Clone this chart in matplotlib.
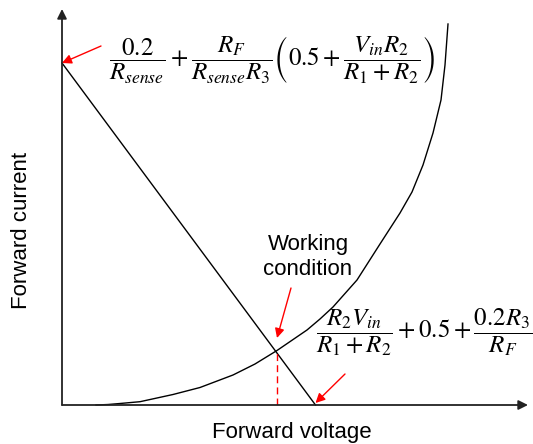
import matplotlib
matplotlib.use("Agg")
import matplotlib.pyplot as plt

plt.rcParams['font.family'] = ['Liberation Sans', 'DejaVu Sans']
plt.rcParams['mathtext.fontset'] = 'stix'

# diode-like characteristic (forward voltage, forward current), arbitrary units
curve_v = [34, 46, 58, 78, 111, 138, 171, 193, 215, 245, 258, 271, 295, 318, 338, 350,
           361, 371, 379, 383, 386]
curve_i = [0, 0.5, 1.5, 3.3, 10.5, 17.5, 30, 41, 54.5, 75, 86, 98, 125, 161, 192, 213,
           240, 272, 305, 340, 381]

# load line: intercepts on the current and voltage axes
load_v = [0, 253.5]
load_i = [342, 0]

# working point
work_v = 215
work_i = 53

x_max = 466
y_max = 396

fig = plt.figure(figsize=(5.33, 4.44), dpi=100)
ax = fig.add_axes([62 / 533, 39 / 444, 466 / 533, 396 / 444])
ax.set_xlim(0, x_max)
ax.set_ylim(0, y_max)
ax.axis('off')

# axes with arrow heads
axis_arrow = dict(arrowstyle='-|>', color='#222222', lw=1.3, mutation_scale=14,
                  shrinkA=0, shrinkB=0)
ax.annotate('', xy=(x_max, 0), xytext=(0, 0), arrowprops=axis_arrow, annotation_clip=False)
ax.annotate('', xy=(0, y_max), xytext=(0, 0), arrowprops=axis_arrow, annotation_clip=False)

ax.plot(curve_v, curve_i, color='black', lw=1, clip_on=False)
ax.plot(load_v, load_i, color='black', lw=1, clip_on=False)
ax.plot([work_v, work_v], [0, work_i], color='red', lw=1, ls=(0, (5, 3)))

red_arrow = dict(arrowstyle='-|>', color='red', lw=1, mutation_scale=14,
                 shrinkA=0, shrinkB=0)
ax.annotate('', xy=(load_v[0], load_i[0]), xytext=(39, 359), arrowprops=red_arrow,
            annotation_clip=False)
ax.annotate('', xy=(work_v, work_i + 14), xytext=(229, 117), arrowprops=red_arrow)
ax.annotate('', xy=(load_v[1], load_i[1] + 2), xytext=(283, 31), arrowprops=red_arrow)

ax.text(-40, 175, 'Forward current', rotation=90, ha='center', va='center', fontsize=16)
ax.text(230, -27, 'Forward voltage', ha='center', va='center', fontsize=16, clip_on=False)
ax.text(246, 148, 'Working\ncondition', ha='center', va='center', fontsize=16,
        linespacing=1.2)

ax.text(210, 345,
        r'$\dfrac{0.2}{R_{sense}}+\dfrac{R_F}{R_{sense}R_3}\left(0.5+\dfrac{V_{in}R_2}{R_1+R_2}\right)$',
        ha='center', va='center', fontsize=18)
ax.text(362, 73, r'$\dfrac{R_2V_{in}}{R_1+R_2}+0.5+\dfrac{0.2R_3}{R_F}$',
        ha='center', va='center', fontsize=18, clip_on=False)

fig.savefig('out.png', dpi=100)
